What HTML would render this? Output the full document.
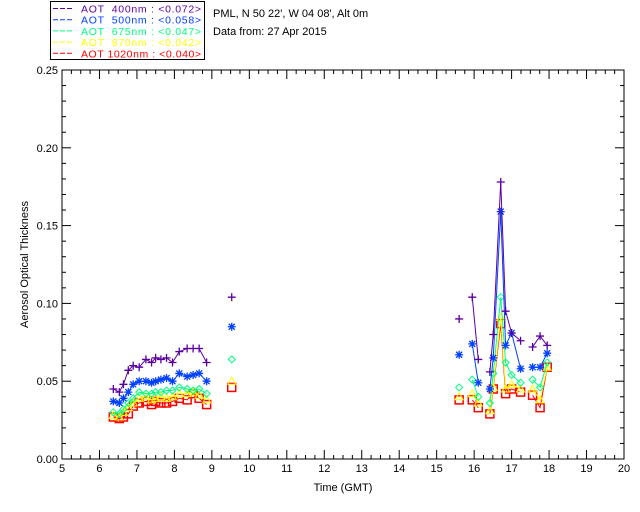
<!DOCTYPE html>
<html><head><meta charset="utf-8"><style>
body{margin:0;background:#fff;}
svg{display:block;font-family:"Liberation Sans",sans-serif;}
</style></head><body>
<svg id="c" width="640" height="512"></svg>
<script>
const morningTimes=[6.37,6.53,6.64,6.77,6.90,7.06,7.24,7.39,7.50,7.64,7.79,7.95,8.13,8.34,8.50,8.66,8.86];
const aot400m=[.045,.043,.048,.057,.060,.059,.064,.062,.065,.064,.065,.062,.069,.071,.071,.071,.062];
const aot500m=[.037,.036,.039,.043,.048,.050,.050,.049,.050,.051,.052,.050,.055,.053,.054,.055,.050];
const aot675m=[.030,.029,.032,.036,.039,.043,.042,.042,.043,.043,.044,.044,.046,.045,.044,.045,.042];
const aot870m=[.028,.027,.030,.033,.036,.039,.040,.038,.039,.040,.039,.040,.042,.042,.043,.041,.038];
const aot1020m=[.027,.026,.027,.029,.034,.036,.037,.035,.037,.036,.036,.037,.039,.038,.042,.039,.035];
const midTimes=[9.53];
const aot400d=[.104],aot500d=[.085],aot675d=[.064],aot870d=[.050],aot1020d=[.046];
const pmTimes=[15.60,15.95,16.11,16.42,16.51,16.71,16.84,17.00,17.24,17.56,17.76,17.95];
const aot400p=[.090,.104,.064,.056,.080,.178,.095,.081,.076,.072,.079,.073];
const aot500p=[.067,.074,.049,.045,.065,.159,.073,.081,.058,.059,.059,.068];
const aot675p=[.046,.051,.040,.036,.055,.104,.062,.054,.049,.051,.046,.062];
const aot870p=[.040,.042,.036,.031,.046,.091,.045,.048,.045,.045,.038,.059];
const aot1020p=[.038,.038,.033,.029,.045,.087,.042,.045,.043,.041,.033,.059];
const xTicks=[5,6,7,8,9,10,11,12,13,14,15,16,17,18,19,20];
const yTicks=[0,0.05,0.10,0.15,0.20,0.25];
const yTickLabels=["0.00","0.05","0.10","0.15","0.20","0.25"];

const NS="http://www.w3.org/2000/svg";
const svg=document.getElementById('c');
const L=62,R=624,T=70,B=459;
const X=t=>L+(t-5)/15*(R-L);
const Y=v=>B-v/0.25*(B-T);
function mk(tag,attrs,parent){const e=document.createElementNS(NS,tag);for(const k in attrs)e.setAttribute(k,attrs[k]);(parent||svg).appendChild(e);return e;}
function txt(s,x,y,attrs){const e=mk('text',Object.assign({x:x,y:y,'font-size':11},attrs||{}));e.textContent=s;return e;}

const box=mk('rect',{x:L,y:T,width:R-L,height:B-T,fill:'none',stroke:'#000'});


xTicks.forEach((t,i)=>{
  const x=X(t);
  mk('line',{x1:x,y1:B,x2:x,y2:B-9,stroke:'#000'});
  mk('line',{x1:x,y1:T,x2:x,y2:T+9,stroke:'#000'});
  const l=txt(String(t),x,B+13,{'text-anchor':'middle'});
  
  
  if(i<xTicks.length-1){for(let m=1;m<4;m++){const xm=X(t+m*0.25);mk('line',{x1:xm,y1:B,x2:xm,y2:B-4,stroke:'#000'});mk('line',{x1:xm,y1:T,x2:xm,y2:T+4,stroke:'#000'});}}
});
yTicks.forEach((v,i)=>{
  const y=Y(v);
  mk('line',{x1:L,y1:y,x2:L+9,y2:y,stroke:'#000'});
  mk('line',{x1:R,y1:y,x2:R-9,y2:y,stroke:'#000'});
  const l=txt(yTickLabels[i],L-4,y+4,{'text-anchor':'end'});
  
  
  if(i<yTicks.length-1){for(let m=1;m<5;m++){const ym=Y(v+m*0.01);mk('line',{x1:L,y1:ym,x2:L+4,y2:ym,stroke:'#000'});mk('line',{x1:R,y1:ym,x2:R-4,y2:ym,stroke:'#000'});}}
});
const xt=txt('Time (GMT)',(L+R)/2,491,{'text-anchor':'middle'});


const yt=txt('Aerosol Optical Thickness',0,0,{'text-anchor':'middle',transform:'translate(28,'+((T+B)/2)+') rotate(-90)'});



function marker(kind,x,y,col,g){
  if(kind==='plus'){mk('path',{d:`M${x-4},${y}h8M${x},${y-4}v8`,stroke:col,'stroke-width':1.3},g);}
  else if(kind==='star'){mk('path',{d:`M${x-4},${y}h8M${x},${y-4}v8M${x-3},${y-3}l6,6M${x-3},${y+3}l6,-6`,stroke:col,'stroke-width':1.3},g);}
  else if(kind==='diamond'){mk('path',{d:`M${x},${y-3.5}l3.5,3.5l-3.5,3.5l-3.5,-3.5z`,stroke:col,fill:'none'},g);}
  else if(kind==='tri'){mk('path',{d:`M${x},${y-4}l4,7h-8z`,stroke:col,fill:'none'},g);}
  else {mk('rect',{x:x-4,y:y-4,width:8,height:8,stroke:col,fill:'none','stroke-width':1.5},g);}
}
function series(name,col,kind,sets){
  const g=mk('g',{});
  
  
  sets.forEach(([ts,vs])=>{
    let seg=[];
    const flush=()=>{if(seg.length>1)mk('polyline',{points:seg.join(' '),fill:'none',stroke:col,'stroke-width':1},g);seg=[];};
    ts.forEach((t,i)=>{if(i>0&&t-ts[i-1]>0.3)flush();seg.push(X(t)+','+Y(vs[i]));});
    flush();
    ts.forEach((t,i)=>marker(kind,X(t),Y(vs[i]),col,g));
  });
}
series('1020nm','#ff0000','sq',[[morningTimes,aot1020m],[midTimes,aot1020d],[pmTimes,aot1020p]]);
series('870nm','#ffff00','tri',[[morningTimes,aot870m],[midTimes,aot870d],[pmTimes,aot870p]]);
series('675nm','#00ff80','diamond',[[morningTimes,aot675m],[midTimes,aot675d],[pmTimes,aot675p]]);
series('500nm','#0040ff','star',[[morningTimes,aot500m],[midTimes,aot500d],[pmTimes,aot500p]]);
series('400nm','#5a00a0','plus',[[morningTimes,aot400m],[midTimes,aot400d],[pmTimes,aot400p]]);

const lg=mk('g',{});


mk('rect',{x:50.5,y:1.5,width:154,height:58,fill:'#fff',stroke:'#000'},lg);
const legNames=['AOT  400nm : <0.072>','AOT  500nm : <0.058>','AOT  675nm : <0.047>','AOT  870nm : <0.042>','AOT 1020nm : <0.040>'];
const legCols=['#5a00a0','#0040ff','#00ff80','#ffff00','#ff0000'];
legNames.forEach((s,i)=>{
  const y=8.5+i*11.2;
  mk('line',{x1:53,y1:y,x2:74,y2:y,stroke:legCols[i],'stroke-dasharray':'5,2'},lg);
  const t=txt(s,81,y+4,{fill:legCols[i],'font-size':10.5,textLength:120,lengthAdjust:'spacing'});
  t.style.whiteSpace='pre';
  
  
});
const s1=txt("PML, N 50 22', W 04 08', Alt 0m",213,17);


const s2=txt("Data from: 27 Apr 2015",213,35);


</script>
</body></html>
